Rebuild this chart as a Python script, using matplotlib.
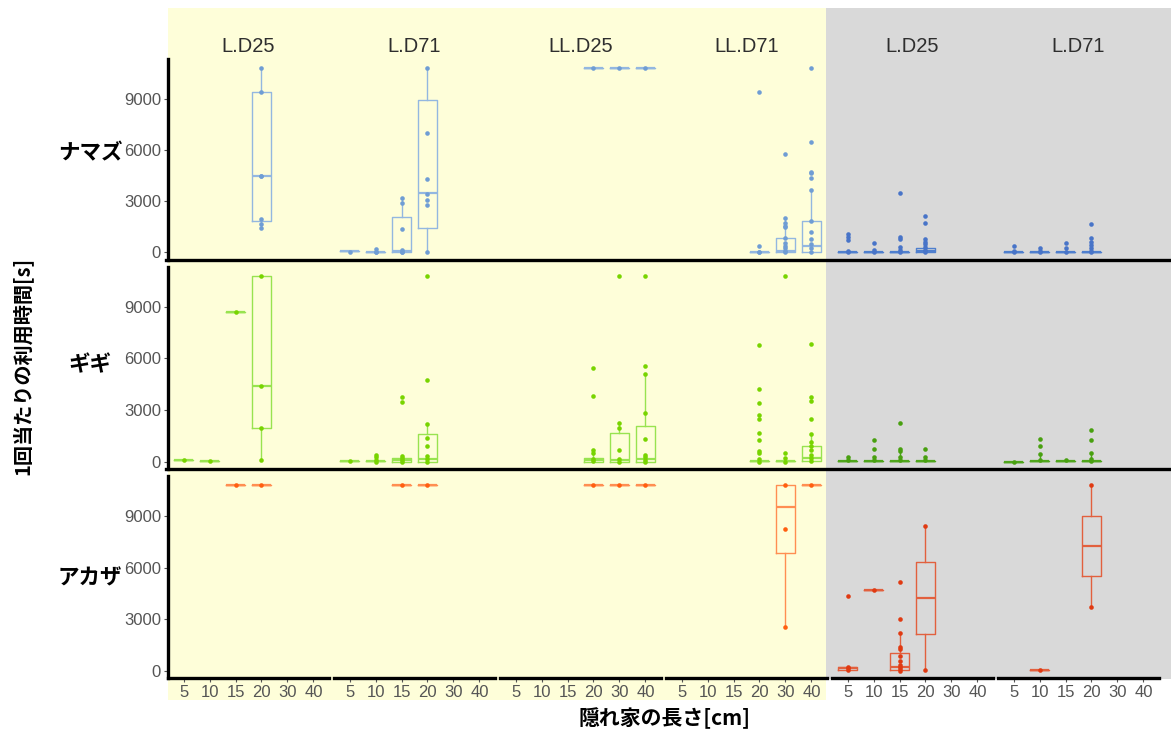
import numpy as np
import matplotlib
matplotlib.use("Agg")
import matplotlib.pyplot as plt
from matplotlib.patches import Rectangle
from matplotlib.lines import Line2D

plt.rcParams['font.family'] = ['Liberation Sans', 'Noto Sans CJK JP', 'DejaVu Sans']
JP = ['Noto Sans CJK JP', 'DejaVu Sans']

panels = ['L.D25', 'L.D71', 'LL.D25', 'LL.D71', 'L.D25', 'L.D71']
lengths = [5, 10, 15, 20, 30, 40]
species = ['ナマズ', 'ギギ', 'アカザ']
yticks = [0, 3000, 6000, 9000]

# boxes: (panel, length, whisker_lo, q1, median, q3, whisker_hi)
namazu_boxes = [
    (0, 20, 1400, 1830, 4500, 9400, 10800),
    (1, 5, 50, 50, 50, 50, 50),
    (1, 10, 40, 40, 40, 40, 175),
    (1, 15, 0, 35, 80, 2090, 3200),
    (1, 20, 40, 1400, 3450, 8950, 10800),
    (2, 20, 10800, 10800, 10800, 10800, 10800),
    (2, 30, 10800, 10800, 10800, 10800, 10800),
    (2, 40, 10800, 10800, 10800, 10800, 10800),
    (3, 20, 20, 20, 30, 30, 30),
    (3, 30, 0, 20, 80, 860, 1990),
    (3, 40, 0, 20, 390, 1830, 3630),
    (4, 5, 40, 40, 40, 40, 40),
    (4, 10, 40, 40, 40, 40, 40),
    (4, 15, 40, 40, 40, 40, 40),
    (4, 20, 0, 10, 95, 235, 470),
    (5, 5, 30, 30, 30, 30, 30),
    (5, 10, 30, 30, 30, 30, 30),
    (5, 15, 30, 30, 30, 30, 30),
    (5, 20, 40, 40, 40, 40, 600),
]
namazu_points = [
    (0, 20, [10800, 9400, 4500, 4450, 1930, 1660, 1400]),
    (1, 5, [40]),
    (1, 10, [175, 40, 20]),
    (1, 15, [3200, 2900, 1350, 135, 35, 0]),
    (1, 20, [10800, 7000, 4280, 3400, 3070, 2790, 40]),
    (2, 20, [10800]), (2, 30, [10800]), (2, 40, [10800]),
    (3, 20, [9400, 390, 20, 0]),
    (3, 30, [5780, 1990, 1700, 1560, 1460, 860, 560, 390, 250, 80, 0]),
    (3, 40, [10800, 6450, 4720, 4630, 4340, 3630, 1830, 1190, 800, 470, 270, 0]),
    (4, 5, [1060, 880, 720, 60, 0]),
    (4, 10, [560, 135, 0]),
    (4, 15, [3490, 910, 760, 330, 135, 0]),
    (4, 20, [2130, 1700, 760, 620, 470, 330, 135, 0]),
    (5, 5, [390, 60, 0]),
    (5, 10, [230, 60, 0]),
    (5, 15, [560, 230, 0]),
    (5, 20, [1660, 820, 620, 410, 230, 60, 0]),
]

gigi_boxes = [
    (0, 5, 80, 80, 80, 80, 80),
    (0, 10, 40, 40, 40, 40, 40),
    (0, 15, 8700, 8700, 8700, 8700, 8700),
    (0, 20, 100, 1940, 4420, 10800, 10800),
    (1, 5, 20, 20, 20, 20, 20),
    (1, 10, 0, 40, 40, 40, 390),
    (1, 15, 0, 0, 80, 200, 390),
    (1, 20, 0, 0, 160, 1610, 2210),
    (2, 20, 0, 0, 100, 230, 680),
    (2, 30, 0, 0, 80, 1670, 2250),
    (2, 40, 0, 0, 140, 2070, 5080),
    (3, 20, 0, 60, 60, 60, 160),
    (3, 30, 0, 40, 40, 40, 230),
    (3, 40, 40, 40, 215, 910, 1610),
    (4, 5, 40, 40, 40, 40, 290),
    (4, 10, 40, 40, 40, 40, 290),
    (4, 15, 40, 40, 40, 40, 640),
    (4, 20, 40, 40, 40, 40, 290),
    (5, 5, 0, 0, 0, 0, 0),
    (5, 10, 40, 40, 40, 40, 430),
    (5, 15, 40, 40, 40, 40, 80),
    (5, 20, 40, 40, 40, 40, 490),
]
gigi_points = [
    (0, 5, [80]), (0, 10, [40]), (0, 15, [8700]),
    (0, 20, [10800, 4420, 1940, 100]),
    (1, 5, [20]),
    (1, 10, [390, 255, 100, 0]),
    (1, 15, [3780, 3490, 330, 215, 100, 0]),
    (1, 20, [10800, 4750, 2210, 1390, 930, 310, 160, 0]),
    (2, 20, [5460, 3840, 680, 520, 160, 60]),
    (2, 30, [10800, 2250, 1980, 680, 160, 0]),
    (2, 40, [10800, 5540, 5080, 2830, 1300, 390, 255, 100, 0]),
    (3, 20, [6800, 4210, 3390, 2730, 2460, 1690, 1260, 640, 520, 160, 0]),
    (3, 30, [10800, 520, 230, 0]),
    (3, 40, [6840, 3740, 3530, 2500, 1610, 1160, 900, 680, 390, 215, 40]),
    (4, 5, [290, 100]),
    (4, 10, [1260, 755, 290, 100]),
    (4, 15, [2250, 755, 640, 290, 100]),
    (4, 20, [755, 290, 100]),
    (5, 5, [0]),
    (5, 10, [1340, 910, 430, 100]),
    (5, 15, [80]),
    (5, 20, [1820, 1280, 490, 150, 40]),
]

akaza_boxes = [
    (0, 15, 10800, 10800, 10800, 10800, 10800),
    (0, 20, 10800, 10800, 10800, 10800, 10800),
    (1, 15, 10800, 10800, 10800, 10800, 10800),
    (1, 20, 10800, 10800, 10800, 10800, 10800),
    (2, 20, 10800, 10800, 10800, 10800, 10800),
    (2, 30, 10800, 10800, 10800, 10800, 10800),
    (2, 40, 10800, 10800, 10800, 10800, 10800),
    (3, 30, 2580, 6840, 9550, 10800, 10800),
    (3, 40, 10800, 10800, 10800, 10800, 10800),
    (4, 5, 80, 80, 175, 230, 230),
    (4, 10, 4700, 4700, 4700, 4700, 4700),
    (4, 15, 0, 60, 215, 1060, 2230),
    (4, 20, 60, 2130, 4240, 6350, 8440),
    (5, 10, 80, 80, 80, 80, 80),
    (5, 20, 3740, 5520, 7280, 9020, 10800),
]
akaza_points = [
    (0, 15, [10800]), (0, 20, [10800]),
    (1, 15, [10800]), (1, 20, [10800]),
    (2, 20, [10800]), (2, 30, [10800]), (2, 40, [10800]),
    (3, 30, [10800, 8250, 2580]),
    (3, 40, [10800]),
    (4, 5, [4340, 230, 150, 80]),
    (4, 10, [4700]),
    (4, 15, [5190, 3000, 2230, 1390, 1280, 870, 560, 350, 230, 110, 0]),
    (4, 20, [8440, 60]),
    (5, 10, [80]),
    (5, 20, [10800, 3740]),
]

row_boxes = [namazu_boxes, gigi_boxes, akaza_boxes]
row_points = [namazu_points, gigi_points, akaza_points]
# (box colour, point colour) for yellow panels and grey panels
row_colors = [
    (('#93b7e0', '#6f9dd4'), ('#4f7fce', '#4874c8')),
    (('#98e350', '#78d400'), ('#4fa51c', '#48a010')),
    (('#ff8e52', '#ff5f10'), ('#e2603e', '#e03a12')),
]

W, H = 1171, 733
fig = plt.figure(figsize=(W / 100, H / 100), dpi=100)


def frect(left, top, width, height):
    return [left / W, 1 - (top + height) / H, width / W, height / H]


# panel backgrounds
fig.add_artist(Rectangle((168 / W, 1 - 700 / H), (826 - 168) / W, (700 - 8) / H,
                         transform=fig.transFigure, facecolor='#fefed9', edgecolor='none', zorder=-2))
fig.add_artist(Rectangle((826 / W, 1 - 679 / H), (1171 - 826) / W, (679 - 8) / H,
                         transform=fig.transFigure, facecolor='#d9d9d9', edgecolor='none', zorder=-2))

row_tops = [58.8, 266.5, 475.8]
row_bots = [259.5, 468.9, 678.2]
col_left0, col_w, col_step = 168, 161, 166

for r in range(3):
    top, bot = row_tops[r], row_bots[r]
    axes_row = []
    for c in range(6):
        ax = fig.add_axes(frect(col_left0 + c * col_step, top, col_w, bot - top))
        ax.set_facecolor('none')
        ax.set_xlim(-0.6, 5.6)
        ax.set_ylim(-420, 11340)
        for s in ['top', 'right']:
            ax.spines[s].set_visible(False)
        ax.spines['bottom'].set_linewidth(2.4)
        ax.spines['bottom'].set_color('black')
        if r < 2:
            ax.spines['bottom'].set_visible(False)
        if c == 0:
            ax.spines['left'].set_linewidth(2.4)
            ax.spines['left'].set_color('black')
            ax.set_yticks(yticks)
            ax.set_yticklabels([str(t) for t in yticks])
            ax.tick_params(axis='y', length=3, color='#555555', labelcolor='#555555',
                           labelsize=12, pad=2)
        else:
            ax.spines['left'].set_visible(False)
            ax.set_yticks([])
        if r == 2:
            ax.set_xticks(range(6))
            ax.set_xticklabels([str(v) for v in lengths])
            ax.tick_params(axis='x', length=3, color='#555555', labelcolor='#555555',
                           labelsize=12, pad=2)
        else:
            ax.set_xticks([])
        axes_row.append(ax)

    for (p, ln, lo, q1, med, q3, hi) in row_boxes[r]:
        bc = row_colors[r][0 if p < 4 else 1][0]
        stats = [dict(whislo=lo, q1=q1, med=med, q3=q3, whishi=hi)]
        axes_row[p].bxp(stats, positions=[lengths.index(ln)], widths=0.75,
                        showfliers=False, showcaps=False, patch_artist=False,
                        boxprops=dict(color=bc, linewidth=1.0),
                        whiskerprops=dict(color=bc, linewidth=1.0),
                        medianprops=dict(color=bc, linewidth=1.6),
                        manage_ticks=False)
    for (p, ln, vals) in row_points[r]:
        pc = row_colors[r][0 if p < 4 else 1][1]
        axes_row[p].plot(np.full(len(vals), lengths.index(ln)), vals, 'o', ms=3.3,
                         color=pc, mec='none', zorder=3, clip_on=False)

    if r < 2:
        y = 1 - (bot + 0.5) / H
        fig.add_artist(Line2D([166 / W, 1.0], [y, y], transform=fig.transFigure,
                              color='black', linewidth=2.4))

    fig.text(90 / W, 1 - [153, 365, 578][r] / H, species[r], ha='center', va='center',
             fontsize=15.5, fontweight='bold', family=JP)

for c, name in enumerate(panels):
    fig.text((col_left0 + c * col_step + col_w / 2) / W, 1 - 46 / H, name,
             ha='center', va='center', fontsize=14.5, color='#2e2e2e')

fig.text(22 / W, 1 - 366 / H, '1回当たりの利用時間[s]', rotation=90, ha='center', va='center',
         fontsize=14.5, fontweight='bold', family=JP)
fig.text(664 / W, 1 - 718 / H, '隠れ家の長さ[cm]', ha='center', va='center',
         fontsize=15, fontweight='bold', family=JP)

fig.savefig('out.png', dpi=100)
